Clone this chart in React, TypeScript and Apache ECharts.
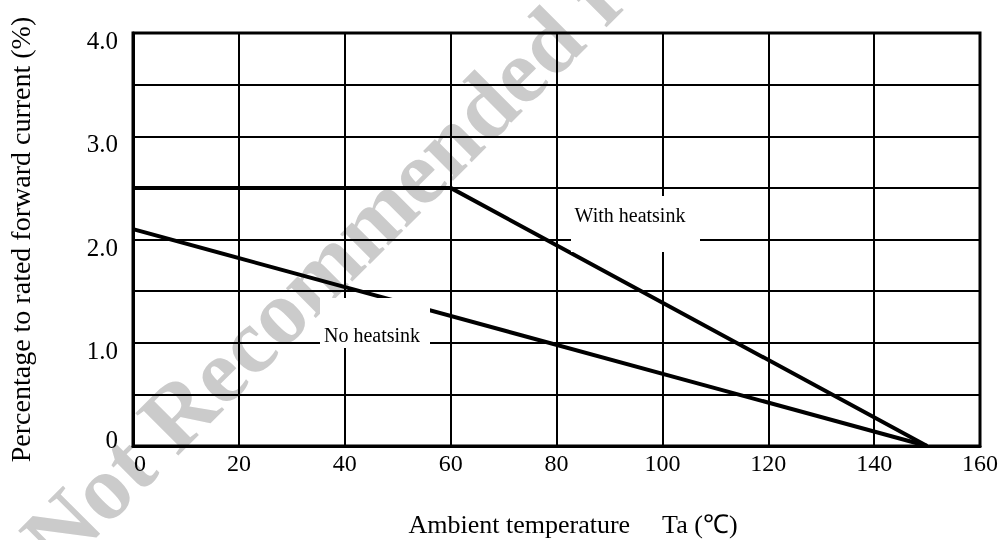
import React, { useEffect, useRef } from "react";
import * as echarts from "echarts";

const xTicks = [0, 20, 40, 60, 80, 100, 120, 140, 160];
const withHeatsinkTemp = [0, 60, 150];
const withHeatsinkValue = [2.5, 2.5, 0];
const noHeatsinkTemp = [0, 150];
const noHeatsinkValue = [2.1, 0];
const yLabels = ["0", "1.0", "2.0", "3.0", "4.0"];

const SERIF = "'Times New Roman', 'Liberation Serif', serif";

export default function App() {
  const ref = useRef<HTMLDivElement>(null);
  useEffect(() => {
    if (!ref.current) return;
    const chart = echarts.init(ref.current, undefined, { renderer: "svg" });
    const withData = withHeatsinkTemp.map((t, i) => [t, withHeatsinkValue[i]]);
    const noData = noHeatsinkTemp.map((t, i) => [t, noHeatsinkValue[i]]);
    chart.setOption({
      animation: false,
      grid: {
        left: 133,
        right: 24,
        top: 33,
        bottom: 94,
        show: true,
        borderColor: "#000",
        borderWidth: 3,
        containLabel: false,
        outerBoundsMode: "none",
      },
      xAxis: {
        type: "value",
        min: xTicks[0],
        max: xTicks[xTicks.length - 1],
        interval: 20,
        name: "Ambient temperature     Ta (℃)",
        nameLocation: "middle",
        nameGap: 65,
        nameTextStyle: {
          fontFamily: SERIF,
          fontSize: 26,
          color: "#000",
          padding: [0, 0, 0, 33],
        },
        axisLine: { show: true, lineStyle: { color: "#000", width: 3 } },
        axisTick: { show: false },
        splitLine: { show: true, lineStyle: { color: "#000", width: 2 } },
        axisLabel: {
          fontFamily: SERIF,
          fontSize: 24,
          color: "#000",
          margin: 5,
          formatter: (v: number) => (v === 0 ? "{z|0}" : String(v)),
          rich: {
            z: { fontFamily: SERIF, fontSize: 24, color: "#000", padding: [0, 0, 0, 14] },
          },
        },
      },
      yAxis: {
        type: "value",
        min: 0,
        max: 4,
        interval: 0.5,
        name: "Percentage to rated forward current (%)",
        nameLocation: "middle",
        nameGap: 99,
        nameTextStyle: { fontFamily: SERIF, fontSize: 28, color: "#000" },
        axisLine: { show: true, lineStyle: { color: "#000", width: 3 } },
        axisTick: { show: false },
        splitLine: { show: true, lineStyle: { color: "#000", width: 2 } },
        axisLabel: {
          fontFamily: SERIF,
          fontSize: 25,
          color: "#000",
          margin: 15,
          interval: 1,
          verticalAlign: "top",
          lineHeight: 15,
          formatter: (v: number) => {
            if (v === 0) return "";
            const idx = Math.round(v);
            return Math.abs(v - idx) < 1e-6 ? yLabels[idx] : "";
          },
        },
      },
      graphic: [
        {
          type: "text",
          z: -10,
          x: 70,
          y: 585,
          rotation: Math.PI / 4,
          style: {
            text: "Not Recommended for New Design",
            font: "bold 92px 'Times New Roman', 'Liberation Serif', serif",
            fill: "#cbcbcb",
            textAlign: "left",
            textVerticalAlign: "bottom",
          },
        },
        {
          type: "text",
          x: 118,
          y: 439,
          z: 10,
          style: {
            text: yLabels[0],
            font: "25px 'Times New Roman', 'Liberation Serif', serif",
            fill: "#000",
            textAlign: "right",
            textVerticalAlign: "middle",
          },
        },
        {
          type: "group",
          z: 20,
          children: [
            {
              type: "rect",
              z: 20,
              shape: { x: 320, y: 298, width: 110, height: 50 },
              style: { fill: "#fff" },
            },
            {
              type: "text",
              z: 21,
              x: 372,
              y: 335,
              style: {
                text: "No heatsink",
                font: "20px 'Times New Roman', 'Liberation Serif', serif",
                fill: "#000",
                textAlign: "center",
                textVerticalAlign: "middle",
              },
            },
            {
              type: "rect",
              z: 20,
              shape: { x: 571, y: 196, width: 129, height: 56 },
              style: { fill: "#fff" },
            },
            {
              type: "text",
              z: 21,
              x: 630,
              y: 215,
              style: {
                text: "With heatsink",
                font: "20px 'Times New Roman', 'Liberation Serif', serif",
                fill: "#000",
                textAlign: "center",
                textVerticalAlign: "middle",
              },
            },
          ],
        },
      ],
      series: [
        {
          name: "With heatsink",
          type: "line",
          data: withData,
          showSymbol: false,
          symbol: "none",
          lineStyle: { color: "#000", width: 4 },
          z: 3,
        },
        {
          name: "No heatsink",
          type: "line",
          data: noData,
          showSymbol: false,
          symbol: "none",
          lineStyle: { color: "#000", width: 4 },
          z: 3,
        },
      ],
    });
    return () => chart.dispose();
  }, []);
  return (
    <div
      ref={ref}
      style={{ position: "fixed", left: 0, top: 0, width: 1004, height: 540 }}
    />
  );
}
